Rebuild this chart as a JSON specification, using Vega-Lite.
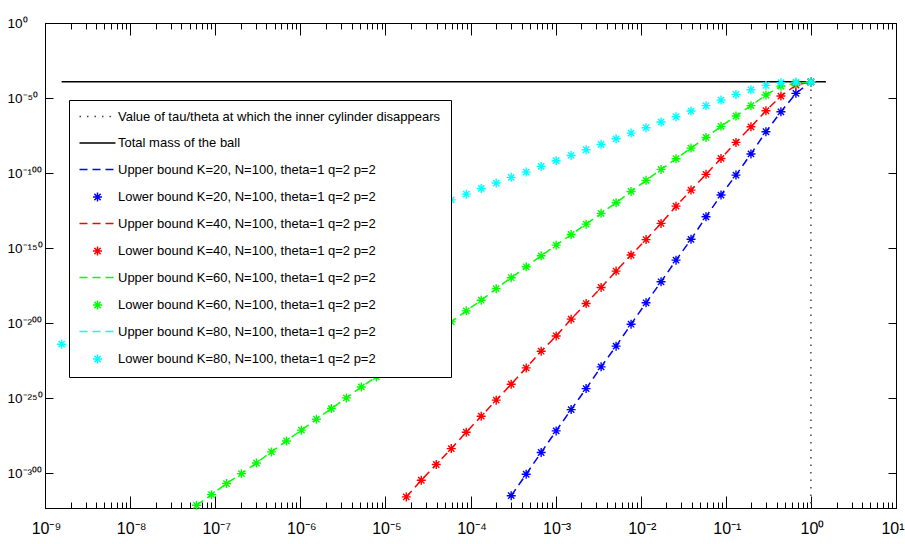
{
  "$schema": "https://vega.github.io/schema/vega-lite/v6.json",
  "width": 851,
  "height": 485,
  "autosize": {"type": "none"},
  "padding": {"left": 45, "top": 23, "right": 9, "bottom": 36},
  "background": "white",
  "config": {
    "view": {"stroke": "black", "strokeWidth": 1},
    "axis": {"grid": false, "domainColor": "black", "domainWidth": 1, "tickColor": "black", "tickWidth": 1, "labelFont": "Liberation Sans", "labelFontSize": 16, "labelColor": "black", "title": null, "labelFlush": false, "labelOverlap": false, "labelBound": false}
  },
  "data": {"values": [
    {"line": "tau", "x": 1, "y": 5e-40},
    {"line": "tau", "x": 1, "y": 5e-324},
    {"line": "mass", "x": 1.56842e-9, "y": 6.5e-40},
    {"line": "mass", "x": 1.5, "y": 6.5e-40},

    {"line": "U20", "pt": "L20", "x": 1, "y": 5.01e-40},
    {"line": "U20", "pt": "L20", "x": 0.666667, "y": 1.26e-47},
    {"line": "U20", "pt": "L20", "x": 0.444444, "y": 6.31e-60},
    {"line": "U20", "pt": "L20", "x": 0.296296, "y": 3.16e-73},
    {"line": "U20", "pt": "L20", "x": 0.197531, "y": 5.01e-88},
    {"line": "U20", "pt": "L20", "x": 0.131687, "y": 3.98e-102},
    {"line": "U20", "pt": "L20", "x": 0.0877915, "y": 2.0e-115},
    {"line": "U20", "pt": "L20", "x": 0.0585277, "y": 6.31e-130},
    {"line": "U20", "pt": "L20", "x": 0.0390184, "y": 6.31e-145},
    {"line": "U20", "pt": "L20", "x": 0.0260123, "y": 7.94e-159},
    {"line": "U20", "pt": "L20", "x": 0.0173415, "y": 3.16e-173},
    {"line": "U20", "pt": "L20", "x": 0.011561, "y": 3.16e-187},
    {"line": "U20", "pt": "L20", "x": 0.00770735, "y": 1.585e-201},
    {"line": "U20", "pt": "L20", "x": 0.00513823, "y": 3.98e-216},
    {"line": "U20", "pt": "L20", "x": 0.00342549, "y": 6.31e-230},
    {"line": "U20", "pt": "L20", "x": 0.00228366, "y": 2.0e-244},
    {"line": "U20", "pt": "L20", "x": 0.00152244, "y": 2.0e-258},
    {"line": "U20", "pt": "L20", "x": 0.00101496, "y": 1.26e-272},
    {"line": "U20", "pt": "L20", "x": 0.00067664, "y": 5.01e-287},
    {"line": "U20", "pt": "L20", "x": 0.000451093, "y": 1.585e-301},
    {"line": "U20", "pt": "L20", "x": 0.000300729, "y": 7.94e-316},

    {"line": "U40", "pt": "L40", "x": 1, "y": 5.01e-40},
    {"line": "U40", "pt": "L40", "x": 0.666667, "y": 3.98e-42},
    {"line": "U40", "pt": "L40", "x": 0.444444, "y": 2.0e-49},
    {"line": "U40", "pt": "L40", "x": 0.296296, "y": 3.16e-59},
    {"line": "U40", "pt": "L40", "x": 0.197531, "y": 6.31e-70},
    {"line": "U40", "pt": "L40", "x": 0.131687, "y": 2.51e-80},
    {"line": "U40", "pt": "L40", "x": 0.0877915, "y": 5.01e-91},
    {"line": "U40", "pt": "L40", "x": 0.0585277, "y": 1.26e-101},
    {"line": "U40", "pt": "L40", "x": 0.0390184, "y": 3.98e-112},
    {"line": "U40", "pt": "L40", "x": 0.0260123, "y": 7.94e-123},
    {"line": "U40", "pt": "L40", "x": 0.0173415, "y": 2.51e-134},
    {"line": "U40", "pt": "L40", "x": 0.011561, "y": 3.98e-145},
    {"line": "U40", "pt": "L40", "x": 0.00770735, "y": 2.0e-155},
    {"line": "U40", "pt": "L40", "x": 0.00513823, "y": 3.98e-166},
    {"line": "U40", "pt": "L40", "x": 0.00342549, "y": 5.01e-177},
    {"line": "U40", "pt": "L40", "x": 0.00228366, "y": 1e-187},
    {"line": "U40", "pt": "L40", "x": 0.00152244, "y": 3.98e-198},
    {"line": "U40", "pt": "L40", "x": 0.00101496, "y": 2.51e-209},
    {"line": "U40", "pt": "L40", "x": 0.00067664, "y": 1.585e-219},
    {"line": "U40", "pt": "L40", "x": 0.000451093, "y": 1.26e-230},
    {"line": "U40", "pt": "L40", "x": 0.000300729, "y": 1.585e-241},
    {"line": "U40", "pt": "L40", "x": 0.000200486, "y": 3.98e-252},
    {"line": "U40", "pt": "L40", "x": 0.000133657, "y": 7.94e-263},
    {"line": "U40", "pt": "L40", "x": 8.91048e-5, "y": 1.585e-273},
    {"line": "U40", "pt": "L40", "x": 5.94032e-5, "y": 2.0e-284},
    {"line": "U40", "pt": "L40", "x": 3.96021e-5, "y": 5.01e-295},
    {"line": "U40", "pt": "L40", "x": 2.64014e-5, "y": 1.585e-305},
    {"line": "U40", "pt": "L40", "x": 1.76009e-5, "y": 1.26e-316},

    {"line": "U60", "pt": "L60", "x": 1, "y": 5.01e-40},
    {"line": "U60", "pt": "L60", "x": 0.666667, "y": 6.31e-41},
    {"line": "U60", "pt": "L60", "x": 0.444444, "y": 1e-42},
    {"line": "U60", "pt": "L60", "x": 0.296296, "y": 1e-48},
    {"line": "U60", "pt": "L60", "x": 0.197531, "y": 7.94e-56},
    {"line": "U60", "pt": "L60", "x": 0.131687, "y": 1e-62},
    {"line": "U60", "pt": "L60", "x": 0.0877915, "y": 1.26e-69},
    {"line": "U60", "pt": "L60", "x": 0.0585277, "y": 5.01e-77},
    {"line": "U60", "pt": "L60", "x": 0.0390184, "y": 3.98e-84},
    {"line": "U60", "pt": "L60", "x": 0.0260123, "y": 3.16e-91},
    {"line": "U60", "pt": "L60", "x": 0.0173415, "y": 2.51e-98},
    {"line": "U60", "pt": "L60", "x": 0.011561, "y": 1.26e-105},
    {"line": "U60", "pt": "L60", "x": 0.00770735, "y": 5.01e-113},
    {"line": "U60", "pt": "L60", "x": 0.00513823, "y": 1.585e-120},
    {"line": "U60", "pt": "L60", "x": 0.00342549, "y": 1.26e-127},
    {"line": "U60", "pt": "L60", "x": 0.00228366, "y": 7.94e-135},
    {"line": "U60", "pt": "L60", "x": 0.00152244, "y": 1e-141},
    {"line": "U60", "pt": "L60", "x": 0.00101496, "y": 7.94e-149},
    {"line": "U60", "pt": "L60", "x": 0.00067664, "y": 6.31e-156},
    {"line": "U60", "pt": "L60", "x": 0.000451093, "y": 3.16e-163},
    {"line": "U60", "pt": "L60", "x": 0.000300729, "y": 1.585e-170},
    {"line": "U60", "pt": "L60", "x": 0.000200486, "y": 7.94e-178},
    {"line": "U60", "pt": "L60", "x": 0.000133657, "y": 1.585e-185},
    {"line": "U60", "pt": "L60", "x": 8.91048e-5, "y": 1.26e-192},
    {"line": "U60", "pt": "L60", "x": 5.94032e-5, "y": 6.31e-200},
    {"line": "U60", "pt": "L60", "x": 7.82264e-6, "y": 1.26e-236},
    {"line": "U60", "pt": "L60", "x": 5.21509e-6, "y": 2.51e-243},
    {"line": "U60", "pt": "L60", "x": 3.47673e-6, "y": 1.26e-250},
    {"line": "U60", "pt": "L60", "x": 2.31782e-6, "y": 1e-257},
    {"line": "U60", "pt": "L60", "x": 1.54521e-6, "y": 7.94e-265},
    {"line": "U60", "pt": "L60", "x": 1.03014e-6, "y": 3.98e-272},
    {"line": "U60", "pt": "L60", "x": 6.86761e-7, "y": 2.51e-279},
    {"line": "U60", "pt": "L60", "x": 4.57841e-7, "y": 1.26e-286},
    {"line": "U60", "pt": "L60", "x": 3.05227e-7, "y": 5.01e-294},
    {"line": "U60", "pt": "L60", "x": 2.03485e-7, "y": 3.98e-301},
    {"line": "U60", "pt": "L60", "x": 1.35657e-7, "y": 1e-307},
    {"line": "U60", "pt": "L60", "x": 9.04377e-8, "y": 3.98e-315},
    {"line": "U60", "pt": "L60", "x": 6.02918e-8, "y": 3.16e-322},

    {"pt": "L80", "x": 1, "y": 5.01e-40},
    {"pt": "L80", "x": 0.666667, "y": 3.98e-40},
    {"pt": "L80", "x": 0.444444, "y": 1.585e-40},
    {"pt": "L80", "x": 0.296296, "y": 2.51e-42},
    {"pt": "L80", "x": 0.197531, "y": 3.16e-45},
    {"pt": "L80", "x": 0.131687, "y": 2.51e-48},
    {"pt": "L80", "x": 0.0877915, "y": 3.98e-52},
    {"pt": "L80", "x": 0.0585277, "y": 7.94e-56},
    {"pt": "L80", "x": 0.0390184, "y": 2.0e-59},
    {"pt": "L80", "x": 0.0260123, "y": 3.16e-63},
    {"pt": "L80", "x": 0.0173415, "y": 1e-66},
    {"pt": "L80", "x": 0.011561, "y": 1.585e-70},
    {"pt": "L80", "x": 0.00770735, "y": 3.98e-74},
    {"pt": "L80", "x": 0.00513823, "y": 6.31e-78},
    {"pt": "L80", "x": 0.00342549, "y": 1.26e-81},
    {"pt": "L80", "x": 0.00228366, "y": 3.16e-85},
    {"pt": "L80", "x": 0.00152244, "y": 5.01e-89},
    {"pt": "L80", "x": 0.00101496, "y": 1.585e-92},
    {"pt": "L80", "x": 0.00067664, "y": 2.51e-96},
    {"pt": "L80", "x": 0.000451093, "y": 3.98e-100},
    {"pt": "L80", "x": 0.000300729, "y": 1.26e-103},
    {"pt": "L80", "x": 0.000200486, "y": 2.0e-107},
    {"pt": "L80", "x": 0.000133657, "y": 5.01e-111},
    {"pt": "L80", "x": 8.91048e-5, "y": 7.94e-115},
    {"pt": "L80", "x": 5.94032e-5, "y": 1.26e-118},
    {"pt": "L80", "x": 1.56842e-9, "y": 7.94e-215}
  ]},
  "layer": [
    {
      "transform": [{"filter": "datum.line != null"}],
      "mark": {"type": "line", "strokeWidth": 1.5},
      "encoding": {
        "x": {"field": "x", "type": "quantitative",
          "scale": {"type": "log", "domain": [1e-9, 10], "nice": false},
          "axis": {"orient": "bottom",
            "values": [1e-9,2e-9,3e-9,4e-9,5e-9,6e-9,7e-9,8e-9,9e-9,1e-8,2e-8,3e-8,4e-8,5e-8,6e-8,7e-8,8e-8,9e-8,1e-7,2e-7,3e-7,4e-7,5e-7,6e-7,7e-7,8e-7,9e-7,1e-6,2e-6,3e-6,4e-6,5e-6,6e-6,7e-6,8e-6,9e-6,1e-5,2e-5,3e-5,4e-5,5e-5,6e-5,7e-5,8e-5,9e-5,1e-4,2e-4,3e-4,4e-4,5e-4,6e-4,7e-4,8e-4,9e-4,1e-3,2e-3,3e-3,4e-3,5e-3,6e-3,7e-3,8e-3,9e-3,1e-2,2e-2,3e-2,4e-2,5e-2,6e-2,7e-2,8e-2,9e-2,0.1,0.2,0.3,0.4,0.5,0.6,0.7,0.8,0.9,1,2,3,4,5,6,7,8,9,10],
            "tickSize": {"condition": {"test": "abs(log(datum.value)/LN10 - round(log(datum.value)/LN10)) < 0.001", "value": -12}, "value": -6},
            "labelPadding": 24,
            "labelAlign": {"condition": {"test": "datum.value > 5", "value": "right"}, "value": "center"},
            "labelOffset": {"condition": {"test": "datum.value > 5", "value": 8}, "value": 1},
            "labelExpr": "abs(log(datum.value)/LN10 - round(log(datum.value)/LN10)) < 0.001 ? '10' + ['⁻⁹','⁻⁸','⁻⁷','⁻⁶','⁻⁵','⁻⁴','⁻³','⁻²','⁻¹','⁰','¹'][round(log(datum.value)/LN10)+9] : ''"}},
        "y": {"field": "y", "type": "quantitative",
          "scale": {"type": "log", "domain": [5e-324, 1], "nice": false},
          "axis": {"orient": "left", "values": [1e-300, 1e-250, 1e-200, 1e-150, 1e-100, 1e-50, 1],
            "tickSize": -8, "labelPadding": 46, "labelAlign": "left", "labelFontSize": 13.5,
            "labelExpr": "'10' + ['⁻³⁰⁰','⁻²⁵⁰','⁻²⁰⁰','⁻¹⁵⁰','⁻¹⁰⁰','⁻⁵⁰','⁰'][round(log(datum.value)/LN10/50)+6]"}},
        "color": {"field": "line", "type": "nominal",
          "scale": {"domain": ["tau","mass","U20","L20","U40","L40","U60","L60","U80","L80"],
                    "range": ["#444444","#000000","#0000ff","#0000ff","#ff0000","#ff0000","#00ff00","#00ff00","#00ffff","#00ffff"]},
          "legend": {"orient": "none", "legendX": 24, "legendY": 77, "title": null, "fillColor": "white", "strokeColor": "black",
            "padding": 10, "symbolSize": 81, "symbolStrokeWidth": 1.5, "symbolOffset": 12, "labelOffset": 14, "rowPadding": 12.5,
            "labelFont": "Liberation Sans", "labelFontSize": 13, "labelColor": "black", "labelLimit": 0, "symbolFillColor": "transparent",
            "labelExpr": "['Value of tau/theta at which the inner cylinder disappears','Total mass of the ball','Upper bound K=20, N=100, theta=1 q=2 p=2','Lower bound K=20, N=100, theta=1 q=2 p=2','Upper bound K=40, N=100, theta=1 q=2 p=2','Lower bound K=40, N=100, theta=1 q=2 p=2','Upper bound K=60, N=100, theta=1 q=2 p=2','Lower bound K=60, N=100, theta=1 q=2 p=2','Upper bound K=80, N=100, theta=1 q=2 p=2','Lower bound K=80, N=100, theta=1 q=2 p=2'][indexof(['tau','mass','U20','L20','U40','L40','U60','L60','U80','L80'], datum.label)]"}},
        "strokeDash": {"field": "line", "type": "nominal",
          "scale": {"domain": ["tau","mass","U20","L20","U40","L40","U60","L60","U80","L80"],
                    "range": [[1.5,6],[1,0],[8,5],[1,0],[8,5],[1,0],[8,5],[1,0],[8,5],[1,0]]}}
      }
    },
    {
      "transform": [{"filter": "datum.pt != null"}],
      "mark": {"type": "point", "filled": false, "strokeWidth": 1.4, "size": 81, "opacity": 1},
      "encoding": {
        "x": {"field": "x", "type": "quantitative",
          "scale": {"type": "log", "domain": [1e-9, 10], "nice": false},
          "axis": {"orient": "top", "labels": false, "domain": false,
            "values": [1e-9,2e-9,3e-9,4e-9,5e-9,6e-9,7e-9,8e-9,9e-9,1e-8,2e-8,3e-8,4e-8,5e-8,6e-8,7e-8,8e-8,9e-8,1e-7,2e-7,3e-7,4e-7,5e-7,6e-7,7e-7,8e-7,9e-7,1e-6,2e-6,3e-6,4e-6,5e-6,6e-6,7e-6,8e-6,9e-6,1e-5,2e-5,3e-5,4e-5,5e-5,6e-5,7e-5,8e-5,9e-5,1e-4,2e-4,3e-4,4e-4,5e-4,6e-4,7e-4,8e-4,9e-4,1e-3,2e-3,3e-3,4e-3,5e-3,6e-3,7e-3,8e-3,9e-3,1e-2,2e-2,3e-2,4e-2,5e-2,6e-2,7e-2,8e-2,9e-2,0.1,0.2,0.3,0.4,0.5,0.6,0.7,0.8,0.9,1,2,3,4,5,6,7,8,9,10],
            "tickSize": {"condition": {"test": "abs(log(datum.value)/LN10 - round(log(datum.value)/LN10)) < 0.001", "value": -12}, "value": -6}}},
        "y": {"field": "y", "type": "quantitative",
          "scale": {"type": "log", "domain": [5e-324, 1], "nice": false},
          "axis": {"orient": "right", "labels": false, "domain": false, "values": [1e-300, 1e-250, 1e-200, 1e-150, 1e-100, 1e-50, 1], "tickSize": -8}},
        "color": {"field": "pt", "type": "nominal",
          "scale": {"domain": ["tau","mass","U20","L20","U40","L40","U60","L60","U80","L80"],
                    "range": ["#444444","#000000","#0000ff","#0000ff","#ff0000","#ff0000","#00ff00","#00ff00","#00ffff","#00ffff"]}},
        "shape": {"field": "pt", "type": "nominal",
          "scale": {"domain": ["tau","mass","U20","L20","U40","L40","U60","L60","U80","L80"],
                    "range": ["M-4,0L4,0","M-4,0L4,0","M-4,0L4,0","M-1,0L1,0M0,-1L0,1M-0.7,-0.7L0.7,0.7M-0.7,0.7L0.7,-0.7","M-4,0L4,0","M-1,0L1,0M0,-1L0,1M-0.7,-0.7L0.7,0.7M-0.7,0.7L0.7,-0.7","M-4,0L4,0","M-1,0L1,0M0,-1L0,1M-0.7,-0.7L0.7,0.7M-0.7,0.7L0.7,-0.7","M-4,0L4,0","M-1,0L1,0M0,-1L0,1M-0.7,-0.7L0.7,0.7M-0.7,0.7L0.7,-0.7"]}}
      }
    }
  ],
  "resolve": {"axis": {"x": "independent", "y": "independent"}}
}
